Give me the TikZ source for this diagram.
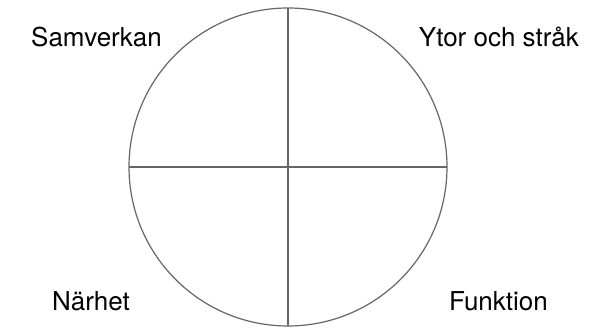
\documentclass[tikz,border=0pt]{standalone}
\usepackage{fontspec}
\setmainfont{TeX Gyre Heros}
\begin{document}
\begin{tikzpicture}[x=1pt,y=1pt,
  ring/.style={draw=black!60,line width=1.2pt},
  lbl/.style={font=\fontsize{26}{31}\selectfont,inner sep=0pt,text=black}]
\useasboundingbox (0,0) rectangle (601,328);
\coordinate (c) at (288,161);
\draw[ring] (c) circle (159);
\coordinate (t) at (288,320);
\coordinate (b) at (288,2);
\coordinate (l) at (129,161);
\coordinate (r) at (447,161);
\draw[ring] (t) -- (b);
\draw[ring] (l) -- (r);
\node[lbl,anchor=base west] (sam) at (31,281) {Samverkan};
\node[lbl,anchor=base east] (yto) at (579,281) {Ytor och stråk};
\node[lbl,anchor=base west] (nar) at (52,17) {Närhet};
\node[lbl,anchor=base east] (fun) at (548,17) {Funktion};
\end{tikzpicture}
\end{document}
